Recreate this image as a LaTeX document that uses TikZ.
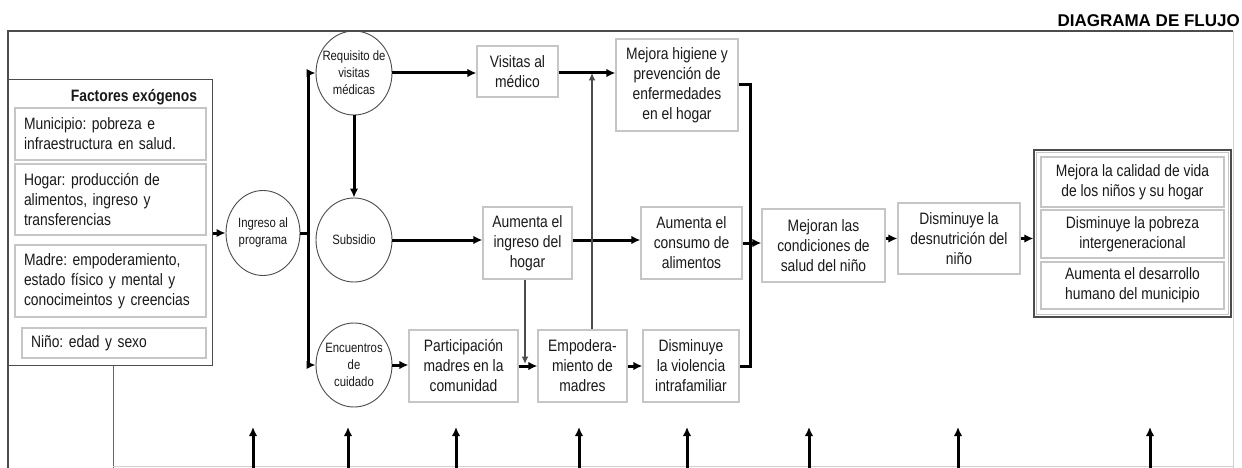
\documentclass[tikz,border=0pt]{standalone}
\usepackage{fontspec}
\setmainfont{Liberation Sans}[FakeStretch=0.84]
\newfontfamily\titlefont{Liberation Sans}
\usetikzlibrary{arrows.meta,shapes.geometric}
\frenchspacing
\newcommand{\boxfont}{\fontsize{16.5}{20}\selectfont\spaceskip=0.23em\relax}
\newcommand{\circfont}{\fontsize{13.5}{17}\selectfont\spaceskip=0.23em\relax}

\tikzset{
  box/.style 2 args={draw=gray!45,line width=1.2pt,align=center,minimum width=#1,minimum height=#2,
    inner sep=2pt,text=black!90,font=\boxfont},
  factor/.style 2 args={draw=gray!45,line width=1.2pt,align=left,text width=#1,minimum height=#2,
    inner xsep=9pt,text=black!90,font=\boxfont},
  circ/.style={ellipse,draw=black!70,line width=0.9pt,minimum width=76,minimum height=84,inner sep=0pt},
  circtxt/.style={align=center,inner sep=0pt,text=black!90,font=\circfont},
  link/.style={line width=3pt},
  flow/.style={line width=3pt,-{Latex[length=9pt,width=8.5pt]}},
  thinflow/.style={line width=1.6pt,draw=black!70,-{Latex[length=7.5pt,width=7pt]}},
}

\begin{document}
\begin{tikzpicture}[x=1pt,y=-1pt]
  \useasboundingbox (0,0) rectangle (1242,468);
  % marco
  \draw[black!70,line width=1.3pt] (8,468) -- (8,31) -- (1233,31);
  \draw[gray!35,line width=1pt] (1233,31) -- (1233,468);
  \node[anchor=east,inner sep=0pt,font=\titlefont\bfseries\fontsize{17}{20}\selectfont] (tit) at (1240,21) {DIAGRAMA DE FLUJO};

  % factores exogenos
  \node[draw=black!70,line width=1pt,minimum width=204,minimum height=285,inner sep=0pt] (fact) at (110,222.5) {};
  \node[font=\bfseries\boxfont,text=black!90] (facttit) at (134,97) {Factores exógenos};
  \node[factor={173}{52}] (mun) at (110.5,134) {Municipio: pobreza e\\infraestructura en salud.};
  \node[factor={173}{71}] (hog) at (110.5,199.5) {Hogar: producción de\\alimentos, ingreso y\\transferencias};
  \node[factor={173}{72}] (mad) at (110.5,281) {Madre: empoderamiento,\\estado físico y mental y\\conocimeintos y creencias};
  \node[factor={166}{30}] (nin) at (114,343) {Niño: edad y sexo};
  \coordinate (vl) at (113,468);
  \draw[black!60,line width=0.8pt] (vl |- fact.south) -- (vl);
  \draw[gray!35,line width=1pt] (113,466) -- (1233,466);

  % programa
  \node[circ,minimum width=74,minimum height=85,label={[circtxt]center:{Ingreso al\\programa}}] (ing) at (263,233) {};
  \node[circ,label={[circtxt]center:{Requisito de\\visitas\\médicas}}] (req) at (354,73) {};
  \node[circ,label={[circtxt]center:{Subsidio}}] (sub) at (354,240) {};
  \node[circ,label={[circtxt]center:{Encuentros\\de\\cuidado}}] (enc) at (354,365) {};

  % efectos
  \node[box={81}{51}] (vis) at (517.5,71.5) {Visitas al\\médico};
  \node[box={122}{92}] (hig) at (677,85) {Mejora higiene y\\prevención de\\enfermedades\\en el hogar};
  \node[box={89}{72}] (ingh) at (527.5,243) {Aumenta el\\ingreso del\\hogar};
  \node[box={101}{72}] (cons) at (691.5,243) {Aumenta el\\consumo de\\alimentos};
  \node[box={109}{72}] (par) at (463.5,366) {Participación\\madres en la\\comunidad};
  \node[box={89}{72}] (emp) at (582.5,366) {Empodera-\\miento de\\madres};
  \node[box={96}{72}] (vio) at (691,366) {Disminuye\\la violencia\\intrafamiliar};
  \node[box={123}{73}] (mej) at (823.5,245.5) {Mejoran las\\condiciones de\\salud del niño};
  \node[box={122}{71}] (des) at (959,238.5) {Disminuye la\\desnutrición del\\niño};

  % impactos
  \node[draw=black!70,line width=1.2pt,minimum width=197,minimum height=167,inner sep=0pt] (grp) at (1132.5,233.5) {};
  \draw[gray!45,line width=0.8pt] ([shift={(3pt,-3pt)}]grp.north west) rectangle ([shift={(-3pt,3pt)}]grp.south east);
  \node[box={183}{50}] (cal) at (1132.5,182) {Mejora la calidad de vida\\de los niños y su hogar};
  \node[box={183}{48}] (pob) at (1132.5,234) {Disminuye la pobreza\\intergeneracional};
  \node[box={183}{47}] (hum) at (1132.5,285.5) {Aumenta el desarrollo\\humano del municipio};

  % conexiones
  \coordinate (tr) at (308,0);
  \coordinate (col) at (750,0);
  \draw[flow] (fact.east |- ing.west) -- (ing.west);
  \draw[link] (ing.east) -- (tr |- ing.east);
  \draw[flow] (tr |- enc.west) |- (req.west);
  \draw[flow] (tr |- ing.east) |- (enc.west);
  \draw[flow] (req.south) -- (sub.north);
  \draw[flow] (req.east) -- (req.east -| vis.west);
  \draw[flow] (vis.east |- req.east) -- (hig.west |- req.east);
  \draw[flow] (sub.east) -- (sub.east -| ingh.west);
  \draw[flow] (ingh.east |- sub.east) -- (cons.west |- sub.east);
  \draw[flow] (enc.east) -- (enc.east -| par.west);
  \draw[flow] (par.east) -- (emp.west);
  \draw[flow] (emp.east) -- (vio.west);
  \draw[thinflow] ([xshift=9.5pt]emp.north) -- ([xshift=9.5pt]emp.north |- req.east);
  \draw[thinflow,shorten >=2pt] ([xshift=-2.5pt]ingh.south) -- ([xshift=-2.5pt]ingh.south |- par.east);
  \draw[link] (hig.east) -| (col |- vio.east) -- (vio.east);
  \draw[flow] (cons.east) -- (cons.east -| mej.west);
  \draw[flow] (mej.east |- des.west) -- (des.west);
  \draw[flow] (des.east) -- (des.east -| grp.west);

  % flechas de abajo
  \foreach \x [count=\i] in {253,348,456,579,687,809,958,1150} {
    \coordinate (b\i) at (\x,468);
    \draw[flow] (b\i) -- ++(0,-41);
  }
\end{tikzpicture}
\end{document}
